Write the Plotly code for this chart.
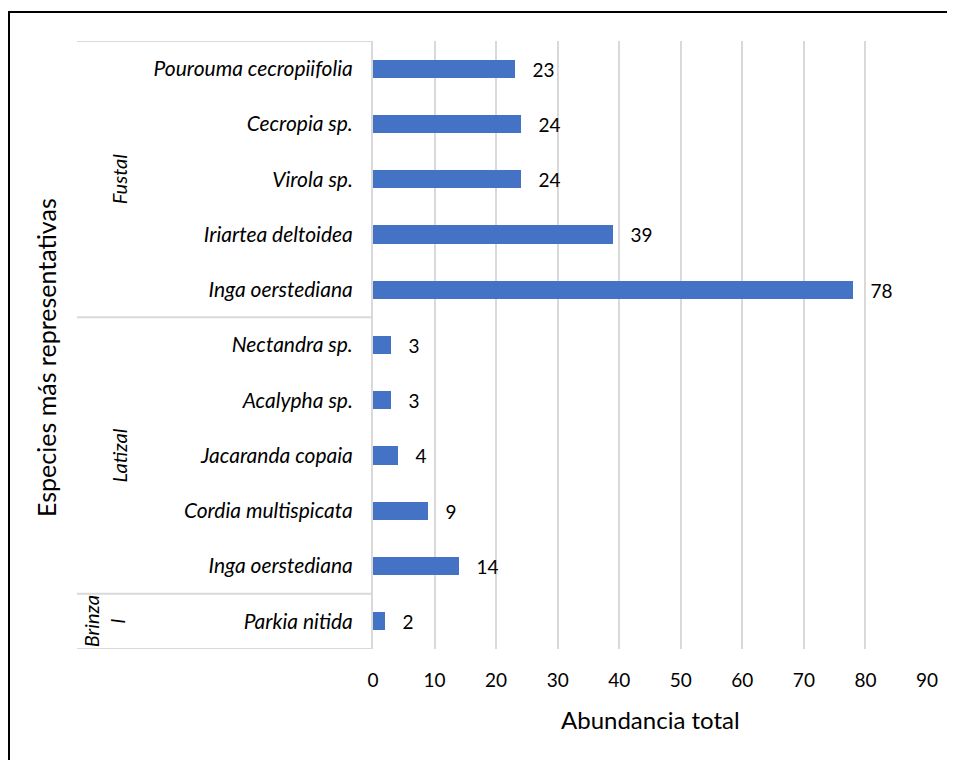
import plotly.graph_objects as go

# Data (bottom to top, as in the source spreadsheet)
groups = ["Brinzal", "Latizal", "Latizal", "Latizal", "Latizal", "Latizal",
          "Fustal", "Fustal", "Fustal", "Fustal", "Fustal"]
species = ["Parkia nitida", "Inga oerstediana", "Cordia multispicata", "Jacaranda copaia",
           "Acalypha sp.", "Nectandra sp.", "Inga oerstediana", "Iriartea deltoidea",
           "Virola sp.", "Cecropia sp.", "Pourouma cecropiifolia"]
abundance = [2, 14, 9, 4, 3, 3, 78, 39, 24, 24, 23]
group_labels = {"Brinzal": "Brinza<br>l", "Latizal": "Latizal", "Fustal": "Fustal"}
x_ticks = [0, 10, 20, 30, 40, 50, 60, 70, 80, 90]

FONT = "Lato, Carlito, Calibri, sans-serif"
pos = list(range(len(species)))

# page has an 8px body margin; plot area target: x 373..927, y 41..649 (page px)
OFF = 8
L, R, T, PW, PH = 373, 927, 41, 554, 608

def px_x(px):
    return (px - L) / PW

def px_y(py):
    return (T + PH - py) / PH

fig = go.Figure()
fig.add_trace(go.Bar(
    x=abundance, y=pos, orientation="h", width=0.33,
    marker=dict(color="#4472C4", line=dict(width=0)),
    text=abundance, texttemplate="\u00a0\u00a0\u00a0%{x}",
    textposition="outside", cliponaxis=False, constraintext="none",
    textfont=dict(family=FONT, size=19, color="#000000"),
    hoverinfo="skip",
))

shapes = []
annotations = []
LEFT = px_x(77)
bounds = [-0.5]
for i in range(1, len(groups)):
    if groups[i] != groups[i - 1]:
        bounds.append(i - 0.5)
bounds.append(len(groups) - 0.5)
for b in bounds:
    shapes.append(dict(type="line", xref="paper", yref="y", x0=LEFT, x1=0, y0=b, y1=b,
                       line=dict(color="#d9d9d9", width=2), layer="below"))
seen = []
for g in groups:
    if g not in seen:
        seen.append(g)
for g in seen:
    idx = [i for i, gg in enumerate(groups) if gg == g]
    yc = (min(idx) + max(idx)) / 2
    annotations.append(dict(text="<i>" + group_labels[g] + "</i>", xref="paper", yref="y",
                            x=px_x(104) if g == "Brinzal" else px_x(119),
                            y=yc, textangle=-90, showarrow=False,
                            font=dict(family=FONT, size=20, color="#000000"),
                            xanchor="center", yanchor="middle"))

# outer chart border (left edge kept just inside the drawing surface)
shapes.append(dict(type="rect", xref="paper", yref="paper",
                   x0=px_x(OFF + 1), x1=1.3, y0=-0.4, y1=px_y(12),
                   line=dict(color="#000000", width=2), fillcolor="rgba(0,0,0,0)"))

annotations.append(dict(text="Especies más representativas", xref="paper", yref="paper",
                        x=px_x(46), y=px_y(358), textangle=-90,
                        showarrow=False, font=dict(family=FONT, size=25, color="#000000"),
                        xanchor="center", yanchor="middle"))
annotations.append(dict(text="Abundancia total", xref="paper", yref="paper",
                        x=0.5, y=px_y(719), showarrow=False,
                        font=dict(family=FONT, size=24, color="#000000"),
                        xanchor="center", yanchor="middle"))

W, H = 955 - OFF, 760 - OFF
fig.update_layout(
    width=W, height=H,
    margin=dict(l=L - OFF, r=W - (R - OFF), t=T - OFF, b=H - (T - OFF) - PH),
    paper_bgcolor="white", plot_bgcolor="white",
    showlegend=False, bargap=0,
    shapes=shapes, annotations=annotations,
    font=dict(family=FONT, color="#000000"),
)
fig.update_xaxes(range=[0, 90], tickvals=x_ticks, showgrid=True, gridcolor="#d9d9d9",
                 gridwidth=2, zeroline=False, showline=False, ticks="",
                 tickfont=dict(family=FONT, size=19, color="#000000"),
                 ticklabelstandoff=18, fixedrange=True)
fig.update_yaxes(range=[-0.5, len(species) - 0.5], tickvals=pos,
                 ticktext=["<i>" + s + "</i>" for s in species],
                 showgrid=False, zeroline=False, showline=True, linecolor="#d9d9d9",
                 linewidth=2, ticks="", ticklabelstandoff=14,
                 tickfont=dict(family=FONT, size=21, color="#000000"), fixedrange=True)

fig.write_html("out.html")
